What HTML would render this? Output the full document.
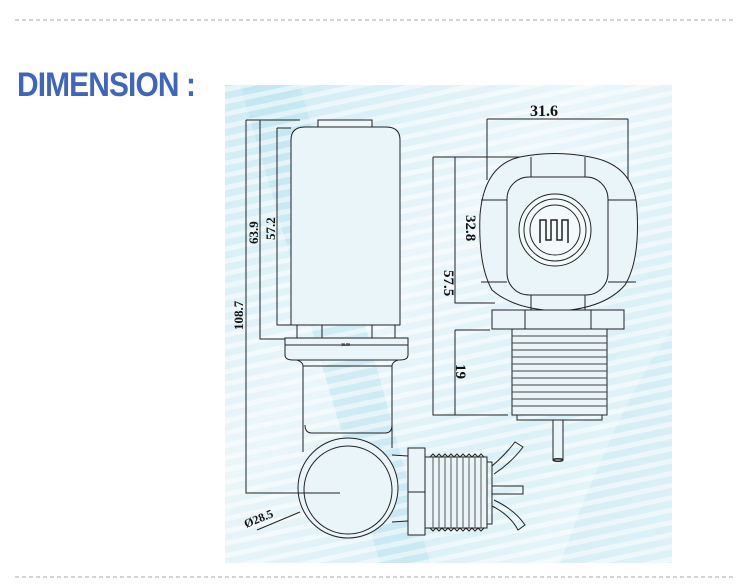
<!DOCTYPE html>
<html><head><meta charset="utf-8"><style>
html,body{margin:0;padding:0;background:#fff;width:749px;height:587px;overflow:hidden}
</style></head><body>
<svg width="749" height="587" viewBox="0 0 749 587" xmlns="http://www.w3.org/2000/svg" font-family="Liberation Serif, serif">
<defs>
<linearGradient id="bg" x1="0" y1="0" x2="1" y2="1">
<stop offset="0" stop-color="#cdebf4"/><stop offset="0.4" stop-color="#eaf6fa"/><stop offset="0.7" stop-color="#dbf0f7"/><stop offset="1" stop-color="#f0f9fb"/>
</linearGradient>
<pattern id="stripes" width="12" height="12" patternUnits="userSpaceOnUse" patternTransform="rotate(-12)">
<rect width="12" height="5" fill="#ffffff" opacity="0.5"/>
</pattern>
</defs>
<line x1="15" y1="20" x2="735" y2="20" stroke="#aaa" stroke-width="1" stroke-dasharray="4,3"/>
<line x1="15" y1="577" x2="735" y2="577" stroke="#aaa" stroke-width="1" stroke-dasharray="4,3"/>
<text x="17" y="96" font-family="Liberation Sans, sans-serif" font-size="34" font-weight="bold" fill="#3f66bc" transform="scale(0.88,1)" transform-origin="17 96" letter-spacing="-1">DIMENSION :</text>

<rect x="225" y="85" width="447" height="478" fill="url(#bg)"/>
<path d="M240 85 L300 85 L430 563 L380 563 Z" fill="#b8e2f0" opacity="0.5"/>
<path d="M560 563 Q620 400 672 330 L672 563 Z" fill="#c2e6f2" opacity="0.4"/>
<rect x="225" y="85" width="447" height="478" fill="url(#stripes)"/>

<g fill="none" stroke="#222" stroke-width="1">
<rect x="318" y="120" width="54" height="8" fill="#eef7fa"/>
<path d="M291 325 L291 140 Q291 127 305 127 L386 127 Q400 127 400 140 L400 325 Z" fill="#eaf5f9"/>
<rect x="297" y="325" width="98" height="13"/>
<line x1="322" y1="325" x2="322" y2="338"/><line x1="372" y1="325" x2="372" y2="338"/>
<path d="M285 338 H408 V355 Q408 360 400 360 H293 Q285 360 285 355 Z" fill="#eaf5f9"/>
<line x1="285" y1="345" x2="408" y2="345"/>
<path d="M297 360 Q303 362 303 366 L303 433 M392 433 L392 366 Q392 362 398 360"/>
<line x1="303" y1="366" x2="392" y2="366"/>
<path d="M305 425 Q305 433 312 433 L385 433 Q392 433 392 425"/>
<line x1="303" y1="433" x2="303" y2="452"/><line x1="392" y1="433" x2="392" y2="448"/>
<circle cx="348" cy="488" r="50" fill="#eaf5f9"/>
<circle cx="348" cy="490" r="44"/>
<path d="M392 455 L408 456 M392 522 L408 521"/>
<rect x="408" y="448" width="17" height="87" fill="#eaf5f9"/>
<line x1="408" y1="492" x2="425" y2="492"/>
<path d="M425 457 L487 457 L487 528 L425 528 Z" fill="#eaf5f9"/>
<path d="M430 457 l3 -3 l3 3 l3 -3 l3 3 l3 -3 l3 3 l3 -3 l3 3 l3 -3 l3 3 l3 -3 l3 3 l3 -3 l3 3 l3 -3 l3 3 l3 -3 l3 3 M430 528 l3 3 l3 -3 l3 3 l3 -3 l3 3 l3 -3 l3 3 l3 -3 l3 3 l3 -3 l3 3 l3 -3 l3 3 l3 -3 l3 3 l3 -3 l3 3 l3 -3"/>
<g stroke="#555"><line x1="433" y1="457" x2="433" y2="528"/><line x1="439" y1="457" x2="439" y2="528"/><line x1="445" y1="457" x2="445" y2="528"/><line x1="451" y1="457" x2="451" y2="528"/><line x1="457" y1="457" x2="457" y2="528"/><line x1="463" y1="457" x2="463" y2="528"/><line x1="469" y1="457" x2="469" y2="528"/><line x1="475" y1="457" x2="475" y2="528"/><line x1="481" y1="457" x2="481" y2="528"/></g>
<rect x="487" y="462" width="5" height="62"/>
<path d="M492 466 Q505 455 515 442 L523 447 Q512 462 494 474"/>
<path d="M492 486 L523 486 L523 494 L492 494"/>
<path d="M492 506 Q510 515 518 530 L525 525 Q515 510 494 500"/>
<path d="M246 120 L300 120 M246 120 L246 493 L340 493"/>
<path d="M260 120 L260 339 L285 339 M260 120 L300 120"/>
<path d="M277 128 L277 325 L291 325 M277 128 L291 128"/>
<path d="M257 530 L300 512"/>

<path d="M487 119 L628 119 M487 119 L487 180 M628 119 L628 180"/>
<path d="M520 157 Q555 150 590 157 Q635 165 637 210 Q640 260 625 285 Q605 308 560 311 Q515 310 492 290 Q478 265 480 215 Q484 165 520 157 Z" fill="#eaf5f9"/>
<rect x="507" y="177" width="101" height="118" rx="22"/>
<path d="M531 157 V177 M585 157 V177 M531 295 V311 M585 295 V311 M481 200 H507 M481 282 H507 M608 200 H636 M608 282 H636"/>
<circle cx="555" cy="230" r="36" fill="#f3fafc"/><circle cx="555" cy="230" r="31"/><circle cx="555" cy="230" r="25"/>
<path d="M540 243 V220 H546 V240 H551 V220 H557 V240 H562 V220 H568 V243" stroke-width="1.5"/>
<rect x="492" y="310" width="132" height="19" fill="#eaf5f9"/>
<line x1="525" y1="310" x2="525" y2="329"/><line x1="591" y1="310" x2="591" y2="329"/>
<rect x="512" y="329" width="95" height="86" fill="#eaf5f9"/>
<g stroke="#444"><line x1="512" y1="336" x2="607" y2="336"/><line x1="512" y1="343" x2="607" y2="343"/><line x1="512" y1="350" x2="607" y2="350"/><line x1="512" y1="357" x2="607" y2="357"/><line x1="512" y1="364" x2="607" y2="364"/><line x1="512" y1="371" x2="607" y2="371"/><line x1="512" y1="378" x2="607" y2="378"/><line x1="512" y1="385" x2="607" y2="385"/><line x1="512" y1="392" x2="607" y2="392"/><line x1="512" y1="399" x2="607" y2="399"/><line x1="512" y1="406" x2="607" y2="406"/></g>
<rect x="517" y="415" width="85" height="5"/>
<rect x="553" y="420" width="10" height="40" fill="#eaf5f9"/>
<ellipse cx="558" cy="460" rx="5" ry="1.5"/>
<path d="M433 157 L520 157 M433 157 L433 415 L508 415"/>
<path d="M455 157 L455 303 L495 303"/>
<path d="M455 330 L490 330 M455 330 L455 415"/>
</g>
<g fill="#111" font-weight="bold">
<text x="530" y="116" font-size="16">31.6</text>
<text transform="translate(258,244) rotate(-90)" font-size="13">63.9</text>
<text transform="translate(275,240) rotate(-90)" font-size="13">57.2</text>
<text transform="translate(243,330) rotate(-90)" font-size="13">108.7</text>
<text transform="translate(246,528) rotate(-22)" font-size="12">Ø28.5</text>
<text transform="translate(466,215) rotate(90)" font-size="15">32.8</text>
<text transform="translate(444,270) rotate(90)" font-size="15">57.5</text>
<text transform="translate(456,364) rotate(90)" font-size="15">19</text>
<text x="341" y="346" font-size="4">30.80</text>
</g>
</svg>
</body></html>
